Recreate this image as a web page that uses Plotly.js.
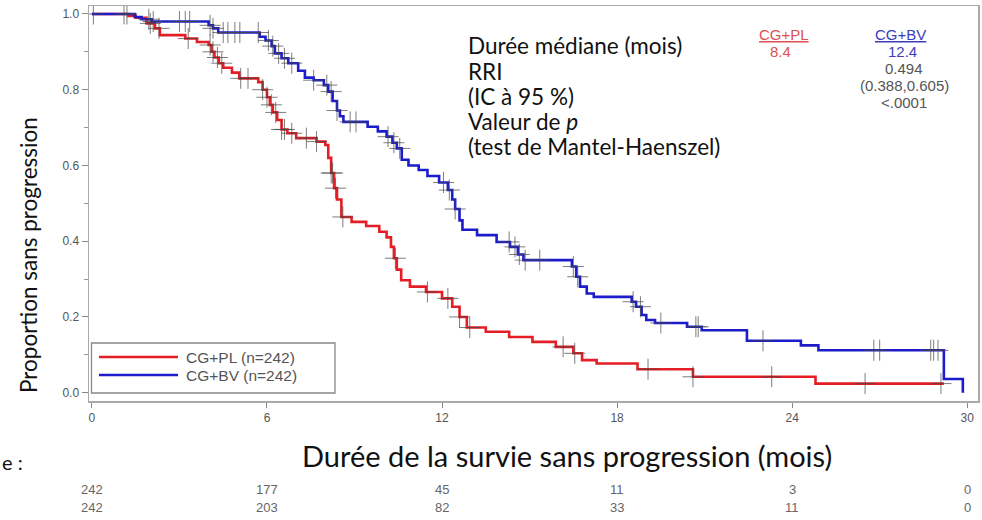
<!DOCTYPE html>
<html>
<head>
<meta charset="utf-8">
<script src="https://cdn.plot.ly/plotly-3.0.1.min.js"></script>
<style>
html,body{margin:0;padding:0;background:#fff;}
#chart{width:982px;height:520px;}
</style>
</head>
<body>
<div id="chart"></div>
<script>
// ---- Data ----
const groupNames = ["CG+PL (n=242)", "CG+BV (n=242)"];

const redTime = [0, 1.25, 1.5, 1.87, 2.16, 2.33, 3.2, 3.6, 4.0, 4.1, 4.2, 4.35, 4.5, 4.8, 5.05, 5.7, 5.85, 6.0, 6.1, 6.2, 6.35, 6.5, 6.7, 7.0, 7.7, 8.0, 8.1, 8.2, 8.3, 8.4, 8.55, 8.9, 9.4, 9.85, 10.1, 10.25, 10.35, 10.45, 10.6, 10.9, 11.45, 12.0, 12.35, 12.6, 12.85, 13.5, 14.3, 15.1, 15.9, 16.5, 16.8, 17.3, 18.7, 20.6, 24.8];
const redSurv = [1.0, 0.995, 0.99, 0.975, 0.962, 0.944, 0.935, 0.926, 0.918, 0.9, 0.885, 0.87, 0.858, 0.845, 0.83, 0.82, 0.8, 0.78, 0.76, 0.74, 0.72, 0.695, 0.685, 0.672, 0.663, 0.654, 0.62, 0.58, 0.54, 0.51, 0.464, 0.451, 0.44, 0.425, 0.41, 0.385, 0.355, 0.325, 0.297, 0.28, 0.266, 0.249, 0.227, 0.2, 0.172, 0.161, 0.147, 0.134, 0.121, 0.104, 0.086, 0.077, 0.062, 0.042, 0.024];
const redEnd = 29.2;

const blueTime = [0, 1.47, 1.7, 2.05, 4.0, 4.15, 4.33, 5.75, 5.95, 6.16, 6.27, 6.5, 6.73, 7.07, 7.3, 7.6, 7.95, 8.1, 8.25, 8.4, 8.5, 8.62, 9.45, 9.8, 10.1, 10.3, 10.45, 10.62, 10.85, 11.2, 11.5, 11.9, 12.2, 12.35, 12.45, 12.6, 12.7, 13.2, 13.87, 14.33, 14.6, 14.79, 16.45, 16.6, 16.73, 16.96, 17.2, 18.5, 18.65, 18.84, 19.0, 19.3, 20.4, 20.9, 22.45, 24.3, 24.9, 29.2, 29.85];
const blueSurv = [1.0, 0.992, 0.986, 0.98, 0.97, 0.962, 0.951, 0.94, 0.93, 0.915, 0.896, 0.883, 0.87, 0.85, 0.832, 0.825, 0.812, 0.795, 0.77, 0.745, 0.73, 0.715, 0.702, 0.69, 0.676, 0.66, 0.645, 0.615, 0.6, 0.588, 0.572, 0.555, 0.535, 0.51, 0.485, 0.455, 0.43, 0.416, 0.398, 0.385, 0.365, 0.35, 0.333, 0.306, 0.28, 0.262, 0.253, 0.24, 0.227, 0.205, 0.192, 0.184, 0.174, 0.165, 0.137, 0.125, 0.112, 0.036, 0.0];

const redCensor = [2.0, 2.3, 3.3, 4.05, 4.15, 4.3, 4.45, 5.1, 5.35, 5.85, 6.0, 6.15, 6.3, 6.5, 6.6, 6.85, 7.35, 7.7, 8.2, 8.25, 8.35, 8.6, 10.4, 11.5, 12.2, 12.6, 12.95, 16.15, 16.55, 19.06, 20.6, 23.3, 26.5, 29.1];
const blueCensor = [0.05, 1.1, 1.2, 1.95, 2.1, 3.0, 3.2, 3.35, 4.05, 4.15, 4.5, 4.66, 4.9, 5.07, 5.7, 6.05, 6.2, 6.4, 6.6, 6.85, 7.6, 8.05, 8.2, 8.4, 8.85, 9.05, 10.15, 10.35, 10.55, 12.05, 12.25, 12.45, 14.3, 14.5, 14.65, 14.85, 15.35, 16.5, 16.65, 18.55, 18.8, 19.5, 20.7, 20.78, 23.0, 26.8, 27.0, 28.75, 28.85, 29.0];

const xTickVals = [0, 6, 12, 18, 24, 30];
const yTickVals = [0, 0.2, 0.4, 0.6, 0.8, 1.0];
const riskTimes = [0, 6, 12, 18, 24, 30];
const riskPL = [242, 177, 45, 11, 3, 0];
const riskBV = [242, 203, 82, 33, 11, 0];

const statLabels = ["Durée médiane (mois)", "RRI", "(IC à 95 %)", "Valeur de <i>p</i>", "(test de Mantel-Haenszel)"];
const statPL = ["8.4"];
const statBV = ["12.4", "0.494", "(0.388,0.605)", "<.0001"];

const xTitle = "Durée de la survie sans progression (mois)";
const yTitle = "Proportion sans progression";
const riskLead = "e :";

// ---- helpers ----
const RED = "rgb(228,30,36)";
const BLUE = "rgb(28,28,205)";
function stepAt(times, surv, t) {
  let v = surv[0];
  for (let i = 0; i < times.length; i++) { if (times[i] <= t) v = surv[i]; else break; }
  return v;
}
// layout geometry (pixels) -> paper coordinates
const M = {l: 89, r: 4, t: 6, b: 119};
const PW = 982 - M.l - M.r, PH = 520 - M.t - M.b;
const px = x => (x - M.l) / PW;
const py = y => (520 - M.b - y) / PH;

const traces = [
  {x: redTime.concat([redEnd]), y: redSurv.concat([redSurv[redSurv.length - 1]]), mode: "lines",
   line: {shape: "hv", color: RED, width: 2.6}, name: groupNames[0], showlegend: false, hoverinfo: "skip"},
  {x: blueTime, y: blueSurv, mode: "lines",
   line: {shape: "hv", color: BLUE, width: 2.6}, name: groupNames[1], showlegend: false, hoverinfo: "skip"},
  {x: redCensor, y: redCensor.map(t => stepAt(redTime, redSurv, t)), mode: "markers",
   marker: {symbol: "cross-thin", size: 15, line: {width: 1, color: "rgba(70,70,70,0.7)"}}, showlegend: false, hoverinfo: "skip"},
  {x: blueCensor, y: blueCensor.map(t => stepAt(blueTime, blueSurv, t)), mode: "markers",
   marker: {symbol: "cross-thin", size: 15, line: {width: 1, color: "rgba(70,70,70,0.7)"}}, showlegend: false, hoverinfo: "skip"}
];

const ann = [];
const tickFont = {family: "Liberation Sans, Arial, sans-serif", size: 12, color: "#555"};
// axis titles
ann.push({xref: "paper", yref: "paper", x: px(567), y: py(455), text: xTitle, showarrow: false,
  xanchor: "center", yanchor: "middle", font: {family: "Lato, sans-serif", size: 29, color: "#111"}});
ann.push({xref: "paper", yref: "paper", x: px(28), y: py(255), text: yTitle, showarrow: false, textangle: -90,
  xanchor: "center", yanchor: "middle", font: {family: "Lato, sans-serif", size: 22.5, color: "#111"}});
ann.push({xref: "paper", yref: "paper", x: px(0), y: py(462), text: riskLead, showarrow: false,
  xanchor: "left", yanchor: "middle", font: {family: "Lato, sans-serif", size: 20, color: "#111"}});
// at-risk table
riskTimes.forEach((t, i) => {
  ann.push({xref: "x", yref: "paper", x: t, y: py(489), text: String(riskPL[i]), showarrow: false,
    xanchor: "center", yanchor: "middle", font: {family: "Liberation Sans Narrow, Liberation Sans, Arial, sans-serif", size: 13, color: "#666"}});
  ann.push({xref: "x", yref: "paper", x: t, y: py(507), text: String(riskBV[i]), showarrow: false,
    xanchor: "center", yanchor: "middle", font: {family: "Liberation Sans Narrow, Liberation Sans, Arial, sans-serif", size: 13, color: "#666"}});
});
// statistics block
statLabels.forEach((s, i) => {
  ann.push({xref: "paper", yref: "paper", x: px(466), y: py(46 + 25 * i), text: s, showarrow: false,
    xanchor: "left", yanchor: "middle", font: {family: "Lato, sans-serif", size: 22.5, color: "#111"}});
});
const statFont = c => ({family: "Liberation Sans, Arial, sans-serif", size: 15, color: c});
ann.push({xref: "paper", yref: "paper", x: px(784), y: py(35), text: "<u>CG+PL</u>", showarrow: false,
  xanchor: "center", yanchor: "middle", font: statFont("rgb(222,80,80)")});
ann.push({xref: "paper", yref: "paper", x: px(780), y: py(52), text: statPL[0], showarrow: false,
  xanchor: "center", yanchor: "middle", font: statFont("rgb(222,80,80)")});
ann.push({xref: "paper", yref: "paper", x: px(900), y: py(35), text: "<u>CG+BV</u>", showarrow: false,
  xanchor: "center", yanchor: "middle", font: statFont("rgb(60,60,190)")});
statBV.forEach((s, i) => {
  ann.push({xref: "paper", yref: "paper", x: px(i === 0 ? 902 : 904), y: py(52 + 16.7 * i), text: s, showarrow: false,
    xanchor: "center", yanchor: "middle", font: statFont(i === 0 ? "rgb(60,60,190)" : "#555")});
});
// legend (drawn manually to match long sample lines)
const legFont = {family: "Liberation Sans, Arial, sans-serif", size: 15.5, color: "#555"};
ann.push({xref: "paper", yref: "paper", x: px(184), y: py(357), text: groupNames[0], showarrow: false,
  xanchor: "left", yanchor: "middle", font: legFont});
ann.push({xref: "paper", yref: "paper", x: px(184), y: py(375), text: groupNames[1], showarrow: false,
  xanchor: "left", yanchor: "middle", font: legFont});

const shapes = [
  {type: "rect", xref: "paper", yref: "paper", x0: px(91.5), x1: px(335), y0: py(393), y1: py(343),
   line: {color: "#888", width: 1.3}, fillcolor: "rgba(255,255,255,1)", layer: "above"},
  {type: "line", xref: "paper", yref: "paper", x0: px(99), x1: px(178), y0: py(357), y1: py(357),
   line: {color: RED, width: 2.5}},
  {type: "line", xref: "paper", yref: "paper", x0: px(99), x1: px(178), y0: py(375), y1: py(375),
   line: {color: BLUE, width: 2.5}}
];

const layout = {
  width: 982, height: 520,
  margin: M,
  paper_bgcolor: "#fff", plot_bgcolor: "#fff",
  showlegend: false,
  xaxis: {range: [-0.1, 30.37], tickvals: xTickVals, ticktext: xTickVals.map(String),
    showgrid: false, zeroline: false, showline: true, linecolor: "#aaa", linewidth: 1.5, mirror: true,
    ticks: "outside", ticklen: 5, tickcolor: "#888", tickfont: tickFont},
  yaxis: {range: [-0.022, 1.021], tickvals: yTickVals, tickformat: ".1f",
    showgrid: false, zeroline: false, showline: true, linecolor: "#aaa", linewidth: 1.5, mirror: true,
    ticks: "outside", ticklen: 6, tickcolor: "#888", tickfont: tickFont,
    minor: {dtick: 0.1, ticks: "outside", ticklen: 4, tickcolor: "#999", showgrid: false}},
  annotations: ann,
  shapes: shapes
};

Plotly.newPlot("chart", traces, layout, {staticPlot: true, displayModeBar: false});
</script>
</body>
</html>
